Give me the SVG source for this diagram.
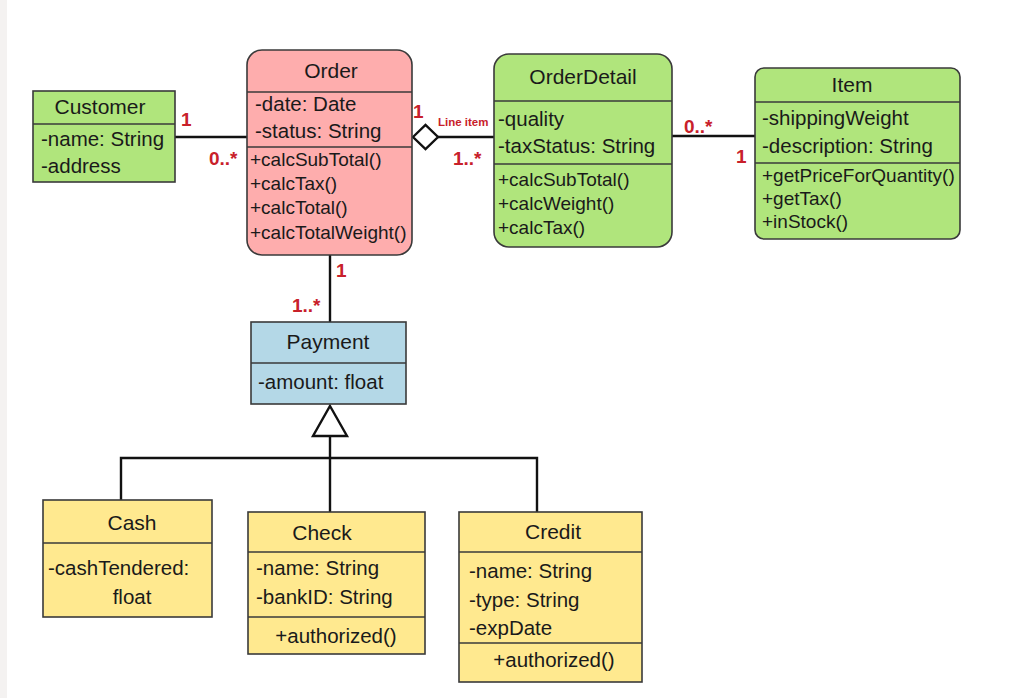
<svg xmlns="http://www.w3.org/2000/svg" width="1010" height="698" viewBox="0 0 1010 698">
<style>
.box{stroke:#3a3a3a;stroke-width:1.6}
.pink{fill:#feadad}.green{fill:#b0e57c}.blue{fill:#b4d8e7}.yellow{fill:#ffe98f}
.div{stroke:#3a3a3a;stroke-width:1.4}
text{font-family:"Liberation Sans","Open Sans",sans-serif;fill:#1a1a1a}
.t{font-size:21px;text-anchor:middle}
.a{font-size:20.5px}
.m{font-size:19px}
.mul{font-size:19px;font-weight:bold;fill:#c8202a}
.lbl{font-size:11.5px;font-weight:bold;fill:#c8202a}
.c{stroke:#111;stroke-width:2.4;fill:none}
</style>
<rect x="0" y="0" width="1010" height="698" fill="#fff"/>
<rect x="0" y="0" width="7" height="698" fill="#f4f2f1"/>

<g id="connectors">
<line class="c" x1="175" y1="137" x2="247" y2="137"/>
<line class="c" x1="438" y1="137" x2="494" y2="137"/>
<polygon points="413,137 425.5,125 438,137 425.5,149" fill="#fff" stroke="#111" stroke-width="2.4"/>
<line class="c" x1="672" y1="136" x2="755" y2="136"/>
<line class="c" x1="330" y1="255" x2="330" y2="322"/>
<polyline class="c" points="330,436 330,458"/>
<polygon points="330,406 347,436 313,436" fill="#fff" stroke="#111" stroke-width="2.4"/>
<polyline class="c" points="121,500 121,458 537,458 537,512"/>
<line class="c" x1="330" y1="458" x2="330" y2="512"/>
<text class="mul" x="181" y="126">1</text>
<text class="mul" x="209" y="165">0..*</text>
<text class="mul" x="413" y="118">1</text>
<text class="lbl" x="438" y="126">Line item</text>
<text class="mul" x="453" y="165">1..*</text>
<text class="mul" x="684" y="133">0..*</text>
<text class="mul" x="736" y="163">1</text>
<text class="mul" x="336" y="277">1</text>
<text class="mul" x="292" y="312">1..*</text>
</g>

<g id="customer">
<rect class="box green" x="33" y="91" width="142" height="91"/>
<line class="div" x1="33" y1="124" x2="175" y2="124"/>
<text class="t" x="100" y="114">Customer</text>
<text class="a" x="41" y="146">-name: String</text>
<text class="a" x="41" y="173">-address</text>
</g>

<g id="order">
<rect class="box pink" x="247" y="50" width="165" height="205" rx="15"/>
<line class="div" x1="247" y1="92" x2="412" y2="92"/>
<line class="div" x1="247" y1="147" x2="412" y2="147"/>
<text class="t" x="331" y="78">Order</text>
<text class="a" x="255" y="111">-date: Date</text>
<text class="a" x="255" y="138">-status: String</text>
<text class="m" x="250" y="166">+calcSubTotal()</text>
<text class="m" x="250" y="190">+calcTax()</text>
<text class="m" x="250" y="214">+calcTotal()</text>
<text class="m" x="250" y="239">+calcTotalWeight()</text>
</g>

<g id="orderdetail">
<rect class="box green" x="494" y="54" width="178" height="193" rx="15"/>
<line class="div" x1="494" y1="101" x2="672" y2="101"/>
<line class="div" x1="494" y1="164" x2="672" y2="164"/>
<text class="t" x="583" y="84">OrderDetail</text>
<text class="a" x="498" y="126">-quality</text>
<text class="a" x="498" y="153">-taxStatus: String</text>
<text class="m" x="498" y="186">+calcSubTotal()</text>
<text class="m" x="498" y="210">+calcWeight()</text>
<text class="m" x="498" y="234">+calcTax()</text>
</g>

<g id="item">
<rect class="box green" x="755" y="68" width="205" height="171" rx="9"/>
<line class="div" x1="755" y1="102" x2="960" y2="102"/>
<line class="div" x1="755" y1="163" x2="960" y2="163"/>
<text class="t" x="852" y="92">Item</text>
<text class="a" x="762" y="125">-shippingWeight</text>
<text class="a" x="762" y="153">-description: String</text>
<text class="m" x="762" y="182">+getPriceForQuantity()</text>
<text class="m" x="762" y="205">+getTax()</text>
<text class="m" x="762" y="228">+inStock()</text>
</g>

<g id="payment">
<rect class="box blue" x="251" y="322" width="155" height="82"/>
<line class="div" x1="251" y1="363" x2="406" y2="363"/>
<text class="t" x="328" y="349">Payment</text>
<text class="a" x="258" y="389">-amount: float</text>
</g>

<g id="cash">
<rect class="box yellow" x="43" y="500" width="169" height="117"/>
<line class="div" x1="43" y1="543" x2="212" y2="543"/>
<text class="t" x="132" y="530">Cash</text>
<text class="a" x="48" y="575">-cashTendered:</text>
<text class="a" x="132" y="604" text-anchor="middle">float</text>
</g>

<g id="check">
<rect class="box yellow" x="248" y="512" width="177" height="142"/>
<line class="div" x1="248" y1="552" x2="425" y2="552"/>
<line class="div" x1="248" y1="617" x2="425" y2="617"/>
<text class="t" x="322" y="540">Check</text>
<text class="a" x="256" y="575">-name: String</text>
<text class="a" x="256" y="604">-bankID: String</text>
<text class="a" x="336" y="643" text-anchor="middle">+authorized()</text>
</g>

<g id="credit">
<rect class="box yellow" x="459" y="512" width="183" height="170"/>
<line class="div" x1="459" y1="552" x2="642" y2="552"/>
<line class="div" x1="459" y1="643" x2="642" y2="643"/>
<text class="t" x="553" y="539">Credit</text>
<text class="a" x="469" y="578">-name: String</text>
<text class="a" x="469" y="607">-type: String</text>
<text class="a" x="469" y="635">-expDate</text>
<text class="a" x="554" y="667" text-anchor="middle">+authorized()</text>
</g>
</svg>
